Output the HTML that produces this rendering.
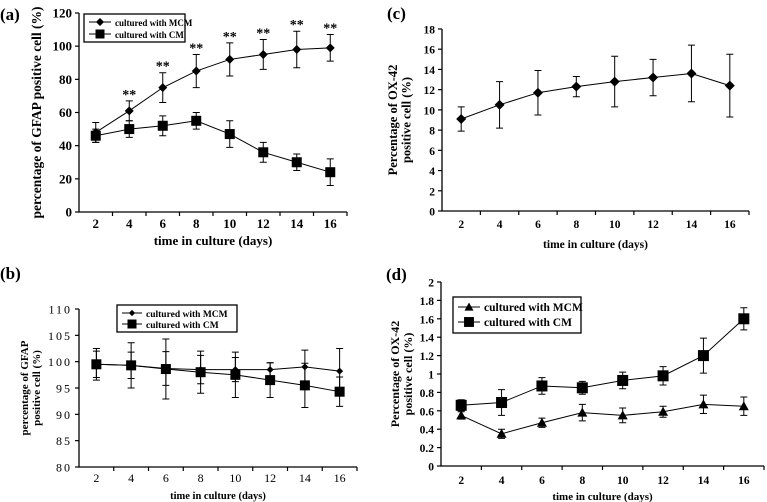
<!DOCTYPE html>
<html><head><meta charset="utf-8"><style>
html,body{margin:0;padding:0;background:#fff;}
svg{display:block;font-family:"Liberation Serif",serif;}
</style></head><body>
<svg id="fig" width="767" height="502" viewBox="0 0 767 502" xmlns="http://www.w3.org/2000/svg"></svg>
<script>
const days = [2,4,6,8,10,12,14,16];
const aMCM = [48,61,75,85,92,95,98,99];
const aMCMErr = [6,6,9,10,10,9,11,8];
const aCM = [46,50,52,55,47,36,30,24];
const aCMErr = [4,5,6,5,8,6,5,8];
const aSig = ["","**","**","**","**","**","**","**"];
const aTicks = [0,20,40,60,80,100,120];
const bMCM = [99.5,99.3,98.7,98.5,98.5,98.5,99,98.2];
const bMCMErr = [2.5,2.5,3.2,2.7,2.3,1.3,3.2,4.3];
const bCM = [99.5,99.3,98.6,98,97.5,96.5,95.5,94.3];
const bCMErr = [3,4.3,5.7,4,4.3,3.3,4.2,2.8];
const bTicks = [80,85,90,95,100,105,110];
const cVals = [9.1,10.5,11.7,12.3,12.8,13.2,13.6,12.4];
const cErr = [1.2,2.3,2.2,1,2.5,1.8,2.8,3.1];
const cTicks = [0,2,4,6,8,10,12,14,16,18];
const dMCM = [0.55,0.35,0.47,0.58,0.55,0.59,0.67,0.65];
const dMCMErr = [0.04,0.05,0.05,0.09,0.08,0.06,0.1,0.1];
const dCM = [0.66,0.69,0.87,0.85,0.93,0.98,1.2,1.6];
const dCMErr = [0.06,0.14,0.09,0.07,0.09,0.1,0.19,0.12];
const dTicks = [0,0.2,0.4,0.6,0.8,1,1.2,1.4,1.6,1.8,2];

const NS="http://www.w3.org/2000/svg";
const svg=document.getElementById('fig');
function mk(tag,attrs,parent,text){const e=document.createElementNS(NS,tag);for(const k in attrs)e.setAttribute(k,attrs[k]);if(text!==undefined)e.textContent=text;(parent||svg).appendChild(e);return e;}

function marker(g,type,x,y,s){
  let e;
  if(type==='sq') e=mk('rect',{x:x-s,y:y-s,width:2*s,height:2*s,fill:'#000'},g);
  else if(type==='di') e=mk('polygon',{points:`${x},${y-s} ${x+s},${y} ${x},${y+s} ${x-s},${y}`,fill:'#000'},g);
  else e=mk('polygon',{points:`${x},${y-s} ${x+s},${y+s*0.8} ${x-s},${y+s*0.8}`,fill:'#000'},g);
  return e;
}

function panel(p){
  const g=mk('g',{});
  
  
  const n=days.length, cw=(p.x1-p.x0)/n;
  const X=i=>p.x0+cw*(i+0.5);
  const Y=v=>p.y0-(v-p.ymin)/(p.ymax-p.ymin)*(p.y0-p.ytop);
  const ax=mk('path',{d:`M${p.x0},${p.ytop} L${p.x0},${p.y0} L${p.x1},${p.y0}`,stroke:'#000','stroke-width':1.3,fill:'none'},g);
  
  
  for(let i=1;i<=n;i++) mk('line',{x1:p.x0+cw*i,y1:p.y0,x2:p.x0+cw*i,y2:p.y0+4,stroke:'#000','stroke-width':1.2},g);
  p.ticks.forEach(t=>{
    mk('line',{x1:p.x0-4,y1:Y(t),x2:p.x0,y2:Y(t),stroke:'#000','stroke-width':1.2},g);
    const tl=mk('text',{x:p.x0-7,y:Y(t)+4.5,'text-anchor':'end','font-size':p.tfs,'font-weight':p.tbold?'bold':'normal','letter-spacing':p.tbold?0:2},g,String(t));
    
    
  });
  days.forEach((d,i)=>{
    const tl=mk('text',{x:X(i),y:p.xly,'text-anchor':'middle','font-size':p.tfs,'font-weight':p.tbold?'bold':'normal'},g,String(d));
    
    
  });
  const xt=mk('text',{x:(p.x0+p.x1)/2,y:p.xty,'text-anchor':'middle','font-size':p.xtfs,'font-weight':'bold'},g,'time in culture (days)');
  
  
  const yt=mk('text',{transform:`translate(${p.ytx},${(p.ytop+p.y0)/2}) rotate(-90)`,'text-anchor':'middle','font-size':p.ytfs,'font-weight':'bold'},g);
  
  
  p.ylines.forEach((l,k)=>mk('tspan',{x:0,dy:k?p.ytfs+1:0},yt,l));
  const pl=mk('text',{x:p.lx,y:p.ly,'font-size':17,'font-weight':'bold'},g,p.label);
  
  
  p.series.forEach(s=>{
    const sg=mk('g',{},g);
    
    
    s.vals.forEach((v,i)=>{
      const e=s.err[i];
      mk('path',{d:`M${X(i)},${Y(v-e)} V${Y(v+e)} M${X(i)-3.5},${Y(v-e)} h7 M${X(i)-3.5},${Y(v+e)} h7`,stroke:s.ecol||'#000','stroke-width':1},sg);
    });
    mk('polyline',{points:s.vals.map((v,i)=>X(i)+','+Y(v)).join(' '),fill:'none',stroke:'#000','stroke-width':1},sg);
    s.vals.forEach((v,i)=>{
      const m=marker(sg,s.m,X(i),Y(v),s.ms);
      
      
    });
    if(s.sig) s.vals.forEach((v,i)=>{ if(s.sig[i]) mk('text',{x:X(i),y:Y(v+s.err[i])-2,'text-anchor':'middle','font-size':14,'font-weight':'bold'},sg,s.sig[i]);});
  });
  if(p.legend){
    const L=p.legend;
    const lg=mk('g',{},g);
    
    
    mk('rect',{x:L.x,y:L.y,width:L.w,height:L.h,fill:'#fff',stroke:'#000','stroke-width':1.3},lg);
    p.series.forEach((s,k)=>{
      const yy=L.y+L.pad+k*L.dy;
      const en=mk('g',{},lg);
      
      
      mk('line',{x1:L.x+5,y1:yy,x2:L.x+5+L.lw,y2:yy,stroke:'#000','stroke-width':1},en);
      marker(en,s.m,L.x+5+L.lw/2,yy,s.ms*0.9);
      mk('text',{x:L.x+9+L.lw,y:yy+4,'font-size':L.fs,'font-weight':'bold'},en,s.label);
    });
  }
}

panel({name:'panel-a',label:'(a)',lx:0,ly:20,x0:79,x1:347,y0:212,ytop:13,ymin:0,ymax:120,ticks:aTicks,tfs:13,tbold:true,xly:228,xty:245,xtfs:13,ytx:41,ytfs:13.5,
  ylines:['percentage of GFAP positive cell (%)'],
  series:[{key:'mcm',label:'cultured with MCM',vals:aMCM,err:aMCMErr,m:'di',ms:4.5,sig:aSig},{key:'cm',label:'cultured with CM',vals:aCM,err:aCMErr,m:'sq',ms:5}],
  legend:{x:84,y:14,w:101,h:28,pad:8,dy:12,lw:22,fs:9}});
panel({name:'panel-b',label:'(b)',lx:0,ly:279,x0:79,x1:357,y0:467,ytop:309,ymin:80,ymax:110,ticks:bTicks,tfs:12,tbold:false,xly:482,xty:499,xtfs:10.5,ytx:28,ytfs:11,
  ylines:['percentage of GFAP','positive cell (%)'],
  series:[{key:'mcm',label:'cultured with MCM',vals:bMCM,err:bMCMErr,m:'di',ms:3.5},{key:'cm',label:'cultured with CM',vals:bCM,err:bCMErr,m:'sq',ms:5}],
  legend:{x:117,y:305,w:120,h:27,pad:8,dy:11,lw:20,fs:9.5}});
panel({name:'panel-c',label:'(c)',lx:387,ly:19,x0:442,x1:749,y0:211,ytop:29,ymin:0,ymax:18,ticks:cTicks,tfs:11.5,tbold:true,xly:228,xty:248,xtfs:11.5,ytx:397,ytfs:12.5,
  ylines:['Percentage of OX-42','positive cell (%)'],
  series:[{key:'ox42',label:'OX-42',vals:cVals,err:cErr,m:'di',ms:5}]});
panel({name:'panel-d',label:'(d)',lx:386,ly:280,x0:441,x1:764,y0:466,ytop:282,ymin:0,ymax:2,ticks:dTicks,tfs:11.5,tbold:true,xly:484,xty:500,xtfs:11,ytx:399,ytfs:12,
  ylines:['Percentage of OX-42','positive cell (%)'],
  series:[{key:'mcm',label:'cultured with MCM',vals:dMCM,err:dMCMErr,m:'tri',ms:5},{key:'cm',label:'cultured with CM',vals:dCM,err:dCMErr,m:'sq',ms:5.5}],
  legend:{x:453,y:297,w:128,h:36,pad:10,dy:15,lw:22,fs:11.5}});
</script>
</body></html>
